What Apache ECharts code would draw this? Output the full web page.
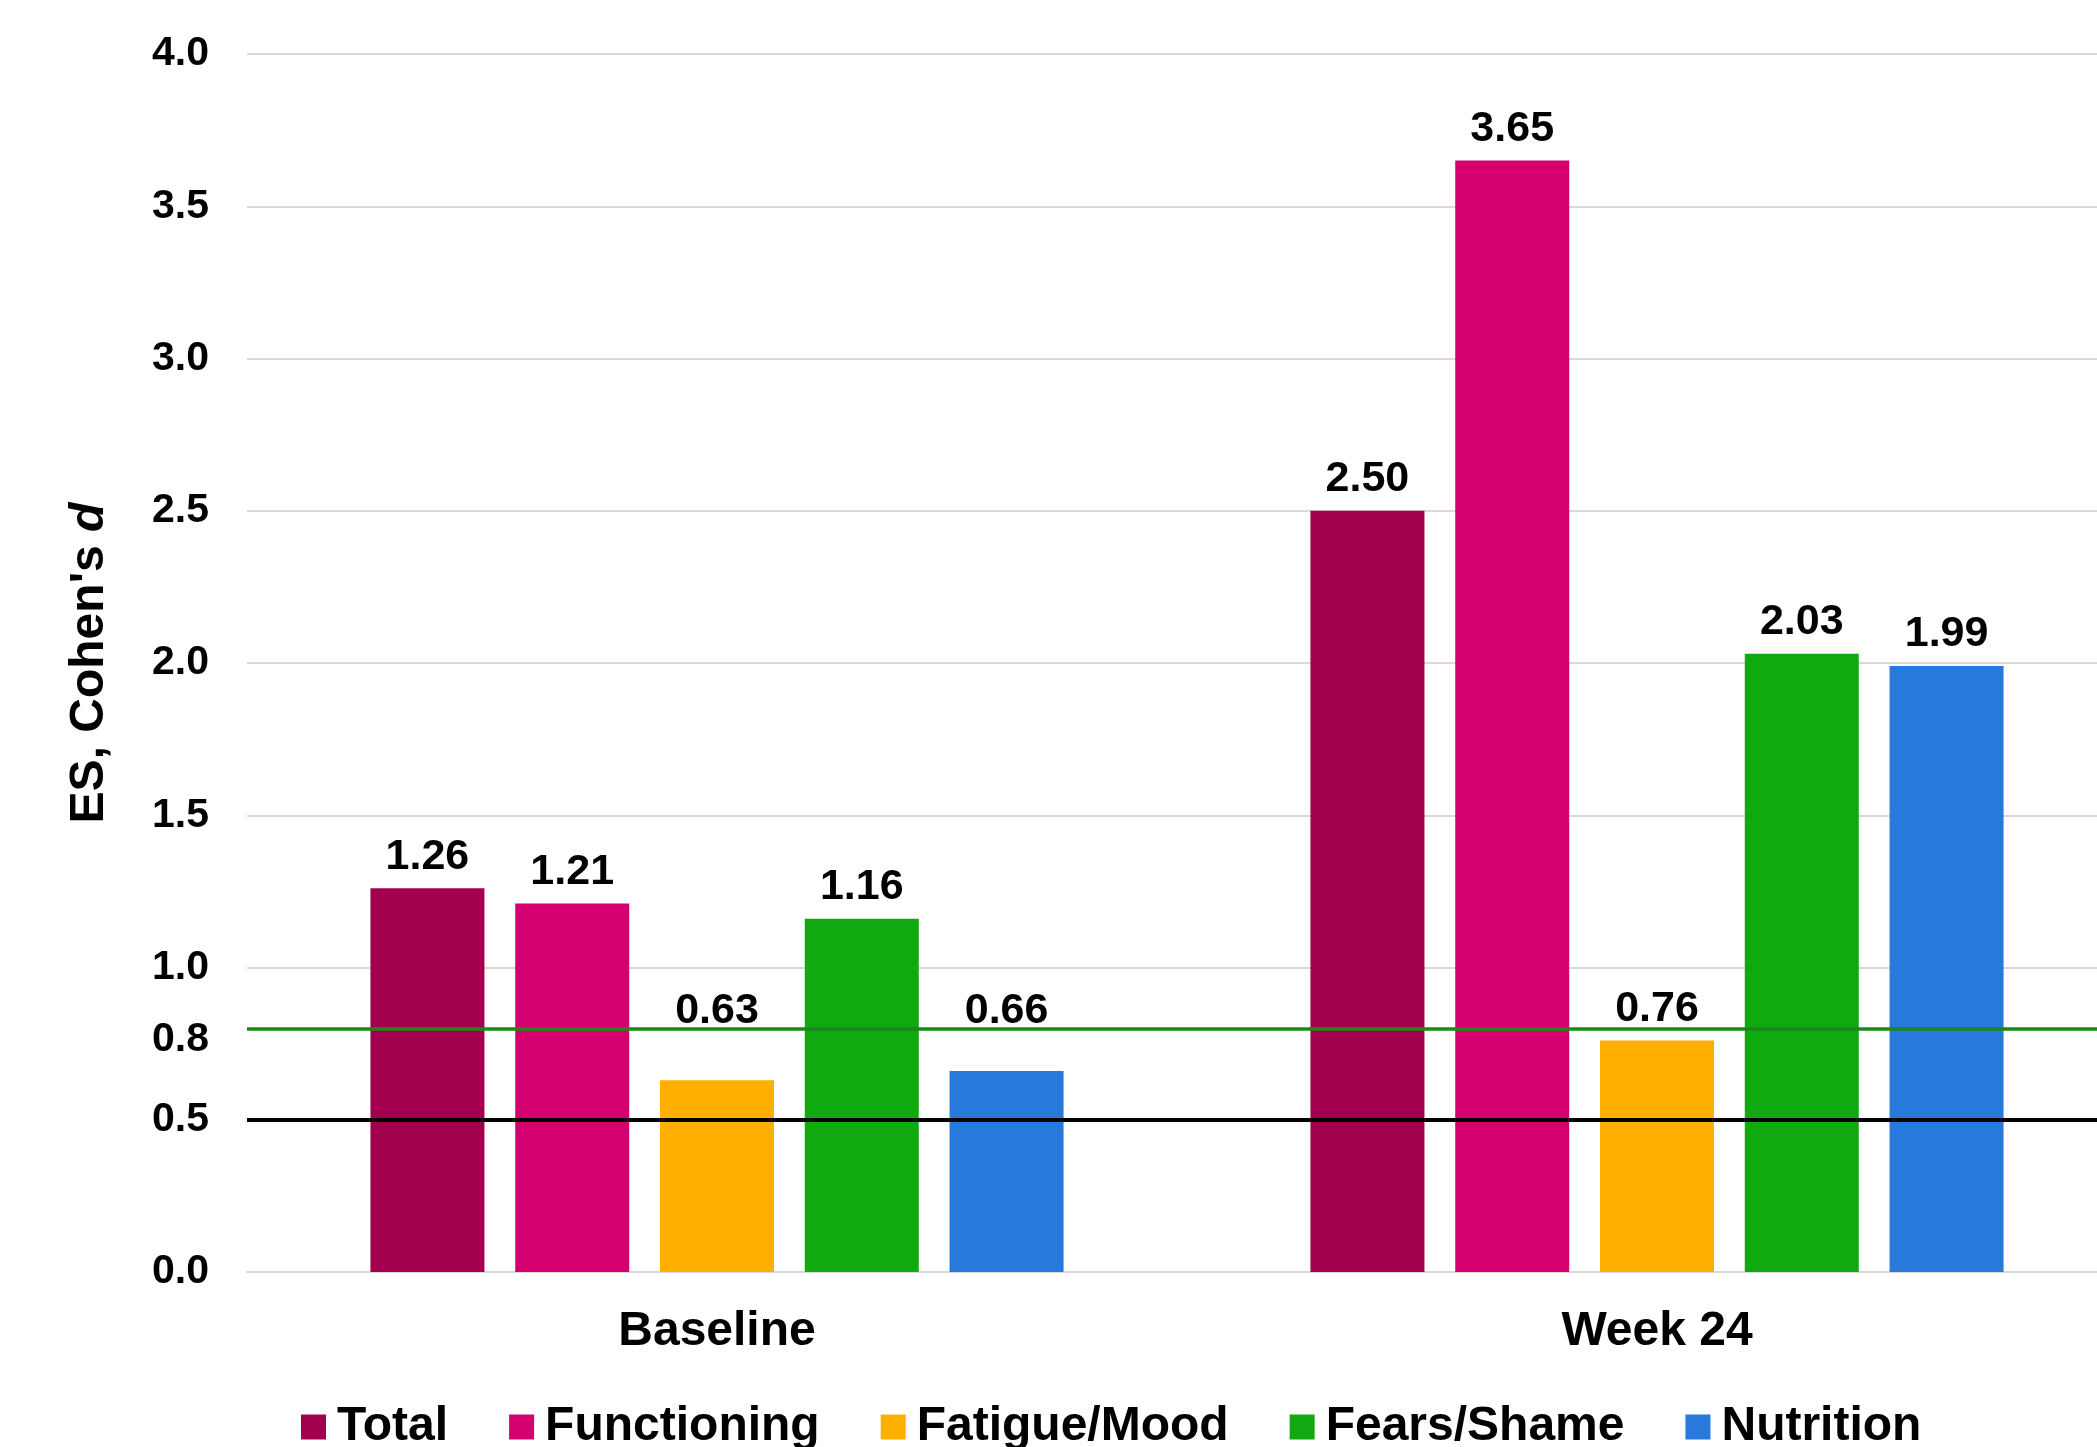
<!DOCTYPE html>
<html>
<head>
<meta charset="utf-8">
<script src="https://cdn.jsdelivr.net/npm/echarts@6/dist/echarts.min.js"></script>
<style>
  html, body { margin: 0; padding: 0; background: #ffffff; }
  #chart { width: 2097px; height: 1447px; }
</style>
</head>
<body>
<div id="chart"></div>
<script>
// Effect sizes (Cohen's d) per domain at each time point
const timepoints = ['Baseline', 'Week 24'];
const domains = ['Total', 'Functioning', 'Fatigue/Mood', 'Fears/Shame', 'Nutrition'];
const total = [1.26, 2.50];
const functioning = [1.21, 3.65];
const fatigueMood = [0.63, 0.76];
const fearsShame = [1.16, 2.03];
const nutrition = [0.66, 1.99];
const domainColors = ['#a2004f', '#d5006f', '#ffaf00', '#10a910', '#2779db'];

// Reference thresholds: large effect (0.8) and medium effect (0.5)
const largeEffect = 0.8;
const mediumEffect = 0.5;

const FONT = '"Liberation Sans", Arial, sans-serif';
const seriesValues = [total, functioning, fatigueMood, fearsShame, nutrition];

// Plot geometry
const GRID_TOP = 54, GRID_BOTTOM_Y = 1272, Y_MAX = 4;
const pxPerUnit = (GRID_BOTTOM_Y - GRID_TOP) / Y_MAX;

// Labels of short bars are lifted so they clear the large-effect line
function labelDistance(v) {
  return Math.max(10, (largeEffect - v) * pxPerUnit - 4);
}

const barSeries = domains.map((name, i) => ({
  name: name,
  type: 'bar',
  data: seriesValues[i].map(v => ({
    value: v,
    label: { distance: labelDistance(v) }
  })),
  barWidth: 114,
  barGap: '27%',
  itemStyle: { color: domainColors[i] },
  label: {
    show: true,
    position: 'top',
    formatter: p => p.value.toFixed(2),
    color: '#000',
    fontFamily: FONT,
    fontWeight: 'bold',
    fontSize: 43
  }
}));

// Threshold lines drawn above the bars
barSeries.push({
  name: 'thresholds',
  type: 'line',
  data: [],
  z: 10,
  silent: true,
  markLine: {
    silent: true,
    symbol: 'none',
    animation: false,
    data: [
      {
        yAxis: largeEffect,
        lineStyle: { color: '#1c871c', width: 3.5, type: 'solid' },
        label: {
          show: true,
          position: 'start',
          distance: 38,
          offset: [0, 11],
          formatter: largeEffect.toFixed(1),
          color: '#000',
          fontFamily: FONT,
          fontWeight: 'bold',
          fontSize: 41
        }
      },
      {
        yAxis: mediumEffect,
        lineStyle: { color: '#000000', width: 4, type: 'solid' },
        label: { show: false }
      }
    ]
  }
});

const chart = echarts.init(document.getElementById('chart'), null, { renderer: 'canvas' });
chart.setOption({
  animation: false,
  backgroundColor: '#ffffff',
  grid: {
    left: 247, width: 1880, top: GRID_TOP, height: GRID_BOTTOM_Y - GRID_TOP,
    containLabel: false, outerBoundsMode: 'none'
  },
  legend: {
    data: domains,
    left: 296,
    top: 1398,
    itemWidth: 25,
    itemHeight: 25,
    itemGap: 61,
    icon: 'rect',
    textStyle: {
      color: '#000',
      fontFamily: FONT,
      fontWeight: 'bold',
      fontSize: 48,
      padding: [0, 0, 0, 6]
    }
  },
  xAxis: {
    type: 'category',
    data: timepoints,
    axisTick: { show: false },
    axisLine: { show: true, lineStyle: { color: '#d9d9d9', width: 2 } },
    axisLabel: {
      margin: 36,
      color: '#000',
      fontFamily: FONT,
      fontWeight: 'bold',
      fontSize: 48
    }
  },
  yAxis: {
    type: 'value',
    min: 0,
    max: Y_MAX,
    interval: 0.5,
    name: "{n|ES, Cohen's }{i|d}",
    nameLocation: 'middle',
    nameGap: 133,
    nameRotate: 90,
    nameTextStyle: {
      rich: {
        n: { fontFamily: FONT, fontWeight: 'bold', fontSize: 48, color: '#000' },
        i: { fontFamily: FONT, fontWeight: 'bold', fontStyle: 'italic', fontSize: 48, color: '#000' }
      }
    },
    axisLine: { show: false },
    axisTick: { show: false },
    splitLine: { show: true, lineStyle: { color: '#d9d9d9', width: 2 } },
    axisLabel: {
      margin: 38,
      padding: [4, 0, 0, 0],
      formatter: v => v.toFixed(1),
      color: '#000',
      fontFamily: FONT,
      fontWeight: 'bold',
      fontSize: 41
    }
  },
  series: barSeries
});
</script>
</body>
</html>
